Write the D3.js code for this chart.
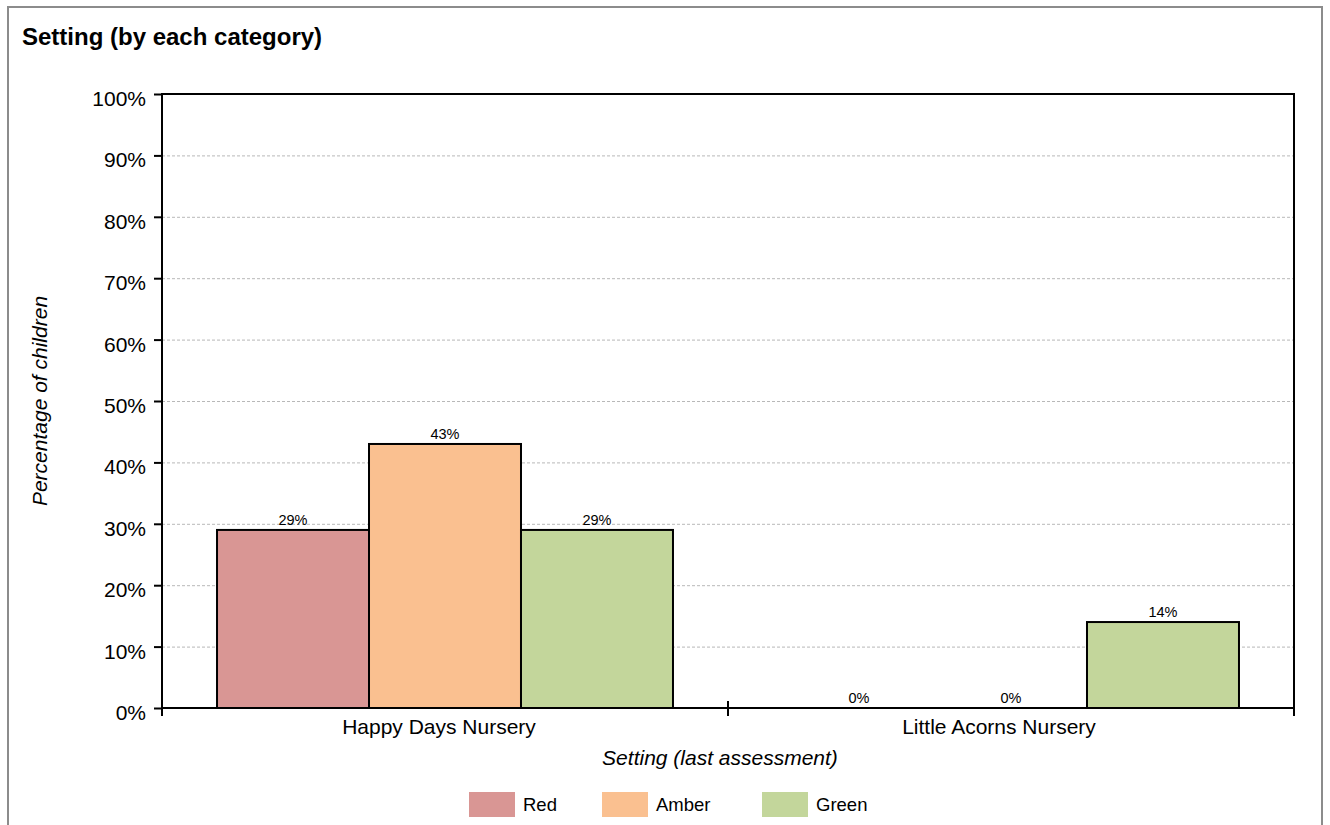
<!DOCTYPE html>
<html><head><meta charset="utf-8">
<script src="https://cdn.jsdelivr.net/npm/d3@7"></script>
<style>
body{margin:0;background:#fff;font-family:"Liberation Sans",Arial,sans-serif;}
</style></head><body>
<svg id="chart" width="1330" height="825"></svg>
<script>
const categories = ["Happy Days Nursery", "Little Acorns Nursery"];
const seriesNames = ["Red", "Amber", "Green"];
const redValues = [29, 0];
const amberValues = [43, 0];
const greenValues = [29, 14];
const seriesColors = ["#d99694", "#fac090", "#c3d69b"];
const yTicks = [0,10,20,30,40,50,60,70,80,90,100];

const svg = d3.select("#chart");
const font = "'Liberation Sans', Arial, sans-serif";

// outer frame
svg.append("rect").attr("x",8).attr("y",7).attr("width",1314).attr("height",830)
  .attr("fill","none").attr("stroke","#8c8c8c").attr("stroke-width",2);

svg.append("text").attr("x",22).attr("y",45).text("Setting (by each category)")
  .attr("font-family",font).attr("font-size",24).attr("font-weight","bold").attr("fill","#000");

const L=162,R=1294,T=94,B=708;
const x0 = d3.scaleBand().domain(categories).range([L,R]).paddingInner(0).paddingOuter(0);
const x1 = d3.scaleBand().domain(seriesNames).range([0,x0.bandwidth()]).paddingOuter(0.362).paddingInner(0);
const y = d3.scaleLinear().domain([0,100]).range([B,T]);

// gridlines
svg.append("g").selectAll("line").data(yTicks.slice(1,-1)).join("line")
  .attr("x1",L).attr("x2",R).attr("y1",d=>y(d)+0.5).attr("y2",d=>y(d)+0.5)
  .attr("stroke","#b8b8b8").attr("stroke-dasharray","3,2").attr("stroke-width",1);

const data = [redValues, amberValues, greenValues];
const g = svg.append("g");
categories.forEach((c,ci)=>{
  seriesNames.forEach((s,si)=>{
    const v = data[si][ci];
    const bx = x0(c)+x1(s);
    if(v>0){
      g.append("rect").attr("x",bx).attr("y",y(v)).attr("width",x1.bandwidth()).attr("height",B-y(v))
        .attr("fill",seriesColors[si]).attr("stroke","#000").attr("stroke-width",2);
    }
    g.append("text").attr("x",bx+x1.bandwidth()/2).attr("y",y(v)-5).attr("text-anchor","middle")
      .attr("font-family",font).attr("font-size",14.5).attr("fill","#000").text(v+"%");
  });
});

// frame top/right
svg.append("line").attr("x1",L).attr("x2",R).attr("y1",T).attr("y2",T).attr("stroke","#000").attr("stroke-width",2);
svg.append("line").attr("x1",R).attr("x2",R).attr("y1",T-1).attr("y2",B+8).attr("stroke","#000").attr("stroke-width",2);

// y axis
const yAxis = d3.axisLeft(y).tickValues(yTicks).tickFormat(d=>d+"%").tickSize(8).tickPadding(8);
const ya = svg.append("g").attr("transform",`translate(${L},0)`).call(yAxis);
ya.select(".domain").attr("stroke","#000").attr("stroke-width",2).attr("d",`M0,${T-1}V${B+8}`);
ya.selectAll(".tick line").attr("stroke","#000").attr("stroke-width",2);
ya.selectAll(".tick text").attr("font-family",font).attr("font-size",21).attr("fill","#000").attr("dy","0.55em");

// x axis
const xa = svg.append("g").attr("transform",`translate(0,${B})`);
xa.append("line").attr("x1",L).attr("x2",R).attr("stroke","#000").attr("stroke-width",2);
xa.selectAll("line.tk").data([L, L+x0.bandwidth(), R]).join("line").attr("class","tk")
  .attr("x1",d=>d).attr("x2",d=>d).attr("y1",-7).attr("y2",8).attr("stroke","#000").attr("stroke-width",2);
xa.selectAll("text").data(categories).join("text")
  .attr("x",(d,i)=>x0(d)+x0.bandwidth()/2 - (i===0?6:12)).attr("y",26).attr("text-anchor","middle")
  .attr("font-family",font).attr("font-size",21).attr("fill","#000").text(d=>d);

svg.append("text").attr("x",720).attr("y",765).attr("text-anchor","middle")
  .attr("font-family",font).attr("font-size",21).attr("font-style","italic").text("Setting (last assessment)");
svg.append("text").attr("transform","translate(47,401) rotate(-90)").attr("text-anchor","middle")
  .attr("font-family",font).attr("font-size",21).attr("font-style","italic").text("Percentage of children");

// legend
const legX = [469, 602, 762];
const lg = svg.append("g");
seriesNames.forEach((s,i)=>{
  lg.append("rect").attr("x",legX[i]).attr("y",792).attr("width",46).attr("height",25).attr("fill",seriesColors[i]);
  lg.append("text").attr("x",legX[i]+54).attr("y",811).attr("font-family",font).attr("font-size",18.5).attr("fill","#000").text(s);
});
</script></body></html>
